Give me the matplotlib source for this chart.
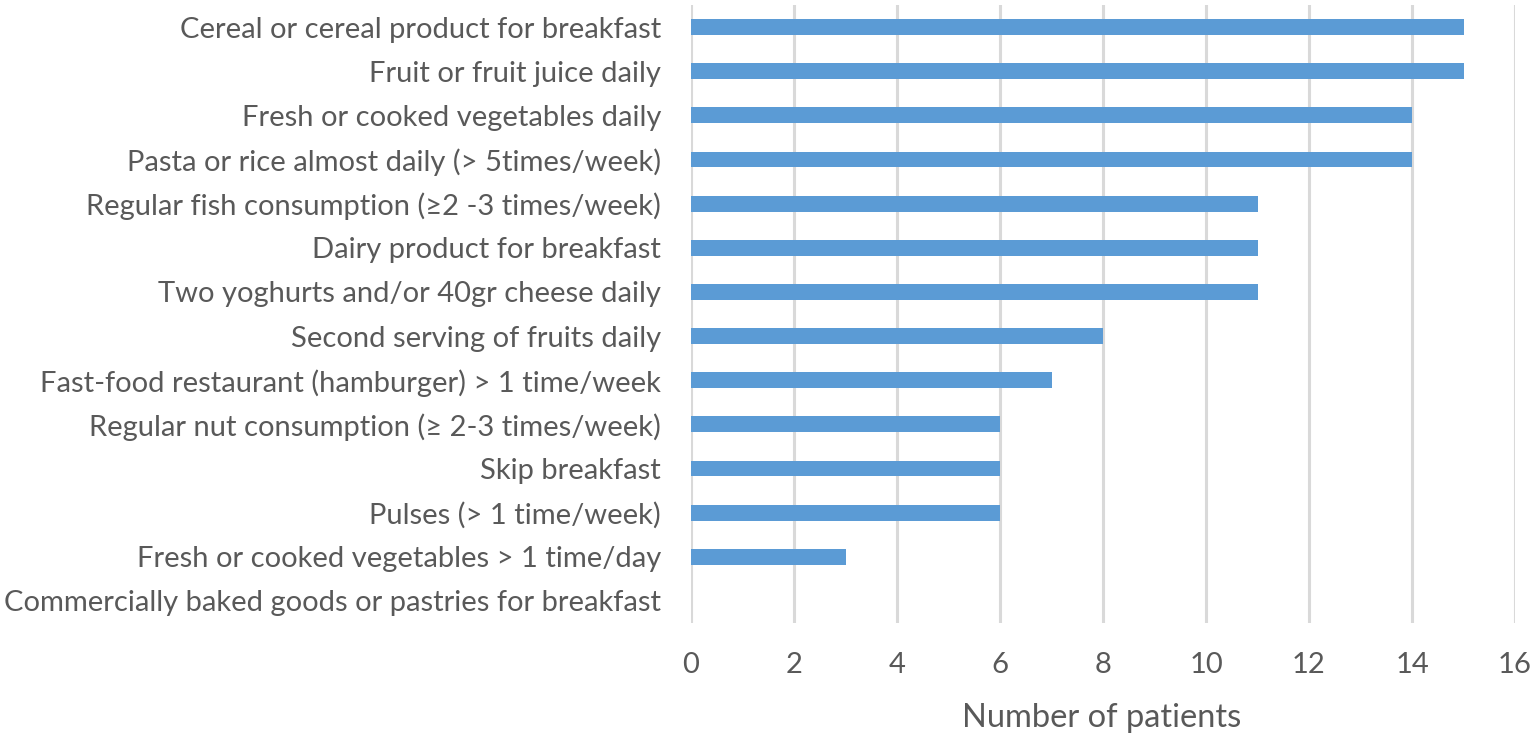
import matplotlib
matplotlib.use("Agg")
import matplotlib.pyplot as plt

categories = [
    "Cereal or cereal product for breakfast",
    "Fruit or fruit juice daily",
    "Fresh or cooked vegetables daily",
    "Pasta or rice almost daily (> 5times/week)",
    "Regular fish consumption (\u22652 -3 times/week)",
    "Dairy product for breakfast",
    "Two yoghurts and/or 40gr cheese daily",
    "Second serving of fruits daily",
    "Fast-food restaurant (hamburger) > 1 time/week",
    "Regular nut consumption (\u2265 2-3 times/week)",
    "Skip breakfast",
    "Pulses (> 1 time/week)",
    "Fresh or cooked vegetables > 1 time/day",
    "Commercially baked goods or pastries for breakfast",
]
values = [15, 15, 14, 14, 11, 11, 11, 8, 7, 6, 6, 6, 3, 0]
xticks = [0, 2, 4, 6, 8, 10, 12, 14, 16]
xlabel = "Number of patients"

plt.rcParams['font.family'] = ['Lato', 'DejaVu Sans']
txt = '#595959'

fig = plt.figure(figsize=(15.35, 7.39), dpi=100)
ax = fig.add_axes([691/1535, 1-623/739, (1515-691)/1535, (623-5)/739])
y = list(range(len(categories)))
ax.barh(y, values, height=0.36, color='#5B9BD5', zorder=3)
ax.set_ylim(len(categories)-0.5, -0.5)
ax.set_xlim(0, 16)
ax.set_xticks(xticks)
ax.set_yticks(y)
ax.set_yticklabels(categories, fontsize=21, color=txt)
ax.set_xticklabels([str(t) for t in xticks], fontsize=21, color=txt)
ax.tick_params(axis='both', length=0)
ax.tick_params(axis='x', pad=21)
ax.tick_params(axis='y', pad=21.5)
ax.grid(axis='x', color='#d9d9d9', linewidth=2.2, zorder=0)
for s in ax.spines.values():
    s.set_visible(False)
ax.set_xlabel(xlabel, fontsize=23.5, color=txt)
ax.xaxis.set_label_coords((1102-691)/(1515-691), -0.13)
fig.savefig("out.png", dpi=100)
